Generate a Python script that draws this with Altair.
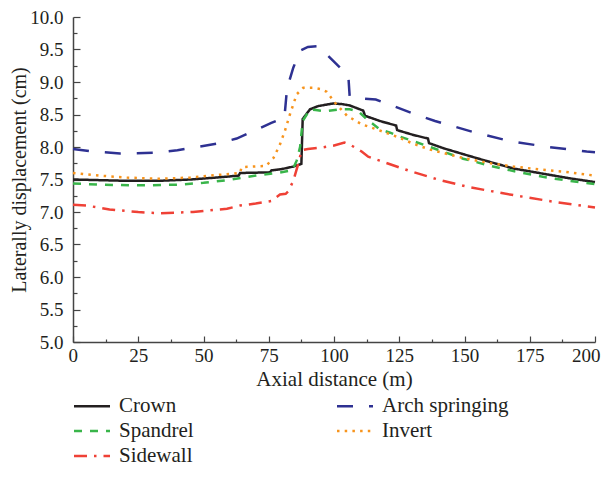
import altair as alt
import pandas as pd

# ---------------- data ----------------
crown_x = [0, 10, 20, 33, 45, 55, 63.5, 64, 75.5, 76, 80, 84.5, 87.5, 88, 90.8, 94, 99.7, 103, 106,
           111.2, 111.9, 117.6, 123.8, 124.2, 130, 136, 136.4, 142, 149.5, 158, 168.7, 180, 190, 200]
crown_y = [7.50, 7.49, 7.48, 7.48, 7.50, 7.53, 7.56, 7.60, 7.61, 7.64, 7.66, 7.70, 7.74, 8.43, 8.58, 8.63,
           8.67, 8.66, 8.64, 8.56, 8.48, 8.40, 8.33, 8.26, 8.19, 8.13, 8.06, 7.98, 7.89, 7.79, 7.67, 7.59,
           7.52, 7.46]

arch_x = [0, 8, 18, 30.7, 40, 46, 55, 62.7, 70, 76, 81, 82, 84.4, 87, 90, 94, 97, 102.3, 105.5, 106,
          110, 116, 123.4, 130, 138.7, 153.4, 167.4, 182.1, 196.8, 200]
arch_y = [7.97, 7.93, 7.90, 7.91, 7.95, 7.99, 8.05, 8.13, 8.26, 8.37, 8.45, 8.90, 9.22, 9.48, 9.54, 9.55,
          9.43, 9.22, 9.09, 8.78, 8.75, 8.73, 8.62, 8.52, 8.40, 8.23, 8.09, 8.00, 7.93, 7.92]

spandrel_x = [0, 10, 27, 40, 50, 59, 65, 71.6, 78, 84, 85.7, 87, 88, 90.8, 93, 96.6, 102.3, 106, 109.3,
              113.1, 117.6, 121.5, 125.3, 136.8, 149.5, 160, 168.7, 181.5, 195.5, 200]
spandrel_y = [7.44, 7.42, 7.41, 7.42, 7.45, 7.49, 7.53, 7.57, 7.60, 7.64, 7.79, 8.00, 8.40, 8.58, 8.57,
              8.55, 8.58, 8.58, 8.55, 8.41, 8.27, 8.22, 8.16, 8.00, 7.82, 7.71, 7.63, 7.53, 7.45, 7.43]

invert_x = [0, 10, 20.6, 33, 45, 52.5, 61.4, 64, 64.6, 74, 76.8, 79.3, 81.2, 83.1, 85.7, 88.2, 92, 95,
            97.2, 100.4, 105, 110.6, 116.4, 124, 130.4, 136.8, 149.5, 160, 168.7, 180, 188, 200]
invert_y = [7.60, 7.56, 7.53, 7.51, 7.53, 7.56, 7.59, 7.60, 7.69, 7.71, 7.83, 8.04, 8.25, 8.50, 8.81,
            8.91, 8.91, 8.89, 8.85, 8.68, 8.48, 8.35, 8.27, 8.16, 8.05, 7.96, 7.83, 7.75, 7.70, 7.65,
            7.62, 7.56]

sidewall_x = [0, 5, 14, 25, 33, 46, 59, 64, 70, 76, 79.3, 81.5, 82.5, 84.4, 86.3, 87.6, 90, 95, 99.7,
              104, 106, 110.6, 113.1, 117.5, 124, 129.1, 140.6, 152, 168.7, 185.3, 200]
sidewall_y = [7.11, 7.10, 7.04, 7.00, 6.98, 7.00, 7.05, 7.10, 7.13, 7.17, 7.27, 7.28, 7.32, 7.48, 7.74,
              7.95, 7.97, 7.99, 8.02, 8.07, 8.04, 7.93, 7.85, 7.79, 7.70, 7.63, 7.49, 7.38, 7.26, 7.15,
              7.07]

series_names = ["Crown", "Arch springing", "Spandrel", "Invert", "Sidewall"]
series_colors = ["#231f20", "#2e3192", "#39b54a", "#f7941d", "#ef4136"]
series_dashes = [[1, 0], [16, 16], [8, 8], [2.5, 5.2], [13, 7, 2.5, 7]]

x_major = [0, 25, 50, 75, 100, 125, 150, 175, 200]
x_minor = [12.5, 37.5, 62.5, 87.5, 112.5, 137.5, 162.5, 187.5]
y_major = [5.0, 5.5, 6.0, 6.5, 7.0, 7.5, 8.0, 8.5, 9.0, 9.5, 10.0]
y_minor = [5.25, 5.75, 6.25, 6.75, 7.25, 7.75, 8.25, 8.75, 9.25, 9.75]

# ---------------- table ----------------
rows = []
for name, xs, ys in [("Crown", crown_x, crown_y), ("Arch springing", arch_x, arch_y),
                     ("Spandrel", spandrel_x, spandrel_y), ("Invert", invert_x, invert_y),
                     ("Sidewall", sidewall_x, sidewall_y)]:
    for i, (xv, yv) in enumerate(zip(xs, ys)):
        rows.append({"series": name, "x": xv, "y": yv, "i": i})
df = pd.DataFrame(rows)

FONT = "Liberation Serif"
INK = "#231f20"
AX = "#444444"
xscale = alt.Scale(domain=[0, 200], nice=False, zero=False)
yscale = alt.Scale(domain=[5, 10], nice=False, zero=False)

legend = alt.Legend(
    title=None, orient="none", direction="horizontal", legendX=8.5, legendY=378.5, columns=2,
    columnPadding=137, rowPadding=3, symbolType="M-2,0H2", symbolSize=324,
    symbolStrokeWidth=2.5, labelFont=FONT, labelFontSize=21, labelColor=INK, labelOffset=16.5,
)

base = alt.Chart(df)

lines = base.mark_line(strokeWidth=2.5).encode(
    x=alt.X("x:Q", scale=xscale,
            axis=alt.Axis(title="Axial distance (m)", values=x_major, ticks=False, grid=False,
                          labelFlush=True, labelFlushOffset=5, labelPadding=4, labelFont=FONT,
                          labelFontSize=19, labelColor=INK, titleFont=FONT, titleFontSize=21,
                          titleFontWeight="normal", titleColor=INK, titlePadding=3,
                          domainColor=AX, domainWidth=1.5, orient="bottom")),
    y=alt.Y("y:Q", scale=yscale,
            axis=alt.Axis(title="Laterally displacement (cm)", values=y_major, format=".1f",
                          ticks=False, grid=False, labelPadding=10, labelFont=FONT,
                          labelFontSize=19, labelColor=INK, titleFont=FONT, titleFontSize=20,
                          titleFontWeight="normal", titleColor=INK, titleX=-54,
                          titleBaseline="middle", domainColor=AX, domainWidth=1.5,
                          orient="left")),
    color=alt.Color("series:N", scale=alt.Scale(domain=series_names, range=series_colors),
                    legend=legend),
    strokeDash=alt.StrokeDash("series:N", scale=alt.Scale(domain=series_names, range=series_dashes),
                              legend=legend),
    order=alt.Order("i:Q"),
)

major_ticks = base.mark_point(opacity=0).encode(
    x=alt.X("x:Q", scale=xscale,
            axis=alt.Axis(title=None, values=x_major, labels=False, domain=False, grid=False,
                          tickSize=6, offset=-6, tickColor=AX, tickWidth=1.2, orient="bottom")),
    y=alt.Y("y:Q", scale=yscale,
            axis=alt.Axis(title=None, values=y_major, labels=False, domain=False, grid=False,
                          tickSize=7, offset=-7, tickColor=AX, tickWidth=1.2, orient="left")),
)

minor_ticks = base.mark_point(opacity=0).encode(
    x=alt.X("x:Q", scale=xscale,
            axis=alt.Axis(title=None, values=x_minor, labels=False, domain=False, grid=False,
                          tickSize=3, offset=-3, tickColor=AX, tickWidth=1.2, orient="bottom")),
    y=alt.Y("y:Q", scale=yscale,
            axis=alt.Axis(title=None, values=y_minor, labels=False, domain=False, grid=False,
                          tickSize=4, offset=-4, tickColor=AX, tickWidth=1.2, orient="left")),
)

chart = alt.layer(lines, major_ticks, minor_ticks).resolve_axis(
    x="independent", y="independent"
).properties(
    width=522, height=325,
    autosize=alt.AutoSizeParams(type="none"),
    padding={"left": 65, "top": 9, "right": 8, "bottom": 127},
).configure_view(stroke=None)

chart.save("out.html", embed_options={"renderer": "svg", "actions": False})
